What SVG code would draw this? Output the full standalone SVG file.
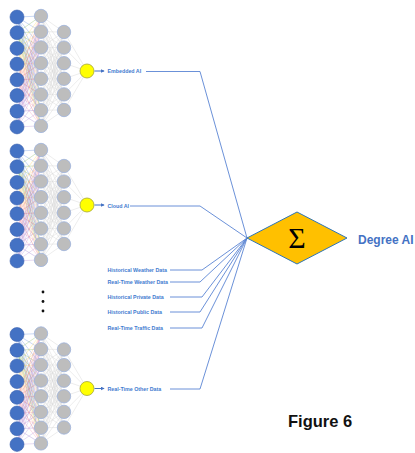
<svg xmlns="http://www.w3.org/2000/svg" xmlns:xlink="http://www.w3.org/1999/xlink" width="415" height="453" viewBox="0 0 415 453">
  <style>
    .in { fill: #4472C4; stroke: #3A62B0; stroke-width: 0.6; }
    .hd { fill: #BDBDBD; stroke: #9DB3DC; stroke-width: 0.8; }
    .out { fill: #FFFF00; stroke: #A5A53A; stroke-width: 0.8; }
    .w { fill: none; stroke-width: 0.5; stroke-opacity: 0.6; }
    .wg { fill: none; stroke: #DADADA; stroke-width: 0.5; }
    .lbl { font-family: "Liberation Sans", Arial, sans-serif; font-size: 5.3px; font-weight: bold; fill: #3F7BD0; }
    .link { fill: none; stroke: #5A84D4; stroke-width: 0.9; }
    .arrow { fill: none; stroke: #4472C4; stroke-width: 1; }
  </style>
  <defs>
    <marker id="head" viewBox="0 0 6 6" refX="5" refY="3" markerWidth="4" markerHeight="4" orient="auto">
      <path d="M0 0L6 3L0 6z" fill="#4472C4"/>
    </marker>
    <!-- small multilayer perceptron: 8 inputs, 8 hidden, 6 hidden, 1 output -->
    <g id="mlp">
      <!-- input to first hidden layer -->
      <path class="w" stroke="#4F7FDA" d="M17 17L41 16M17 17L41 31.7M17 17L41 47.4M17 17L41 63.1M17 17L41 78.8M17 17L41 94.5M17 17L41 110.2M17 17L41 125.9"/>
      <path class="w" stroke="#70AD47" d="M17 32.7L41 16M17 32.7L41 31.7M17 32.7L41 47.4M17 32.7L41 63.1M17 32.7L41 78.8M17 32.7L41 94.5M17 32.7L41 110.2M17 32.7L41 125.9"/>
      <path class="w" stroke="#FFD24D" d="M17 48.4L41 16M17 48.4L41 31.7M17 48.4L41 47.4M17 48.4L41 63.1M17 48.4L41 78.8M17 48.4L41 94.5M17 48.4L41 110.2M17 48.4L41 125.9"/>
      <path class="w" stroke="#F4B183" d="M17 64.1L41 16M17 64.1L41 31.7M17 64.1L41 47.4M17 64.1L41 63.1M17 64.1L41 78.8M17 64.1L41 94.5M17 64.1L41 110.2M17 64.1L41 125.9"/>
      <path class="w" stroke="#E05A5A" d="M17 79.8L41 16M17 79.8L41 31.7M17 79.8L41 47.4M17 79.8L41 63.1M17 79.8L41 78.8M17 79.8L41 94.5M17 79.8L41 110.2M17 79.8L41 125.9"/>
      <path class="w" stroke="#F08AAE" d="M17 95.5L41 16M17 95.5L41 31.7M17 95.5L41 47.4M17 95.5L41 63.1M17 95.5L41 78.8M17 95.5L41 94.5M17 95.5L41 110.2M17 95.5L41 125.9"/>
      <path class="w" stroke="#8E6CC8" d="M17 111.2L41 16M17 111.2L41 31.7M17 111.2L41 47.4M17 111.2L41 63.1M17 111.2L41 78.8M17 111.2L41 94.5M17 111.2L41 110.2M17 111.2L41 125.9"/>
      <path class="w" stroke="#B08AD8" d="M17 126.9L41 16M17 126.9L41 31.7M17 126.9L41 47.4M17 126.9L41 63.1M17 126.9L41 78.8M17 126.9L41 94.5M17 126.9L41 110.2M17 126.9L41 125.9"/>
      <!-- first hidden to second hidden layer -->
      <path class="wg" d="M41 16L64 32M41 16L64 47.6M41 16L64 63.2M41 16L64 78.8M41 16L64 94.4M41 16L64 110
        M41 31.7L64 32M41 31.7L64 47.6M41 31.7L64 63.2M41 31.7L64 78.8M41 31.7L64 94.4M41 31.7L64 110
        M41 47.4L64 32M41 47.4L64 47.6M41 47.4L64 63.2M41 47.4L64 78.8M41 47.4L64 94.4M41 47.4L64 110
        M41 63.1L64 32M41 63.1L64 47.6M41 63.1L64 63.2M41 63.1L64 78.8M41 63.1L64 94.4M41 63.1L64 110
        M41 78.8L64 32M41 78.8L64 47.6M41 78.8L64 63.2M41 78.8L64 78.8M41 78.8L64 94.4M41 78.8L64 110
        M41 94.5L64 32M41 94.5L64 47.6M41 94.5L64 63.2M41 94.5L64 78.8M41 94.5L64 94.4M41 94.5L64 110
        M41 110.2L64 32M41 110.2L64 47.6M41 110.2L64 63.2M41 110.2L64 78.8M41 110.2L64 94.4M41 110.2L64 110
        M41 125.9L64 32M41 125.9L64 47.6M41 125.9L64 63.2M41 125.9L64 78.8M41 125.9L64 94.4M41 125.9L64 110"/>
      <!-- second hidden layer to output -->
      <path class="wg" d="M64 32L87 71M64 47.6L87 71M64 63.2L87 71M64 78.8L87 71M64 94.4L87 71M64 110L87 71"/>
      <!-- neurons -->
      <circle class="in" cx="17" cy="17" r="7"/>
      <circle class="in" cx="17" cy="32.7" r="7"/>
      <circle class="in" cx="17" cy="48.4" r="7"/>
      <circle class="in" cx="17" cy="64.1" r="7"/>
      <circle class="in" cx="17" cy="79.8" r="7"/>
      <circle class="in" cx="17" cy="95.5" r="7"/>
      <circle class="in" cx="17" cy="111.2" r="7"/>
      <circle class="in" cx="17" cy="126.9" r="7"/>
      <circle class="hd" cx="41" cy="16" r="6.7"/>
      <circle class="hd" cx="41" cy="31.7" r="6.7"/>
      <circle class="hd" cx="41" cy="47.4" r="6.7"/>
      <circle class="hd" cx="41" cy="63.1" r="6.7"/>
      <circle class="hd" cx="41" cy="78.8" r="6.7"/>
      <circle class="hd" cx="41" cy="94.5" r="6.7"/>
      <circle class="hd" cx="41" cy="110.2" r="6.7"/>
      <circle class="hd" cx="41" cy="125.9" r="6.7"/>
      <circle class="hd" cx="64" cy="32" r="6.7"/>
      <circle class="hd" cx="64" cy="47.6" r="6.7"/>
      <circle class="hd" cx="64" cy="63.2" r="6.7"/>
      <circle class="hd" cx="64" cy="78.8" r="6.7"/>
      <circle class="hd" cx="64" cy="94.4" r="6.7"/>
      <circle class="hd" cx="64" cy="110" r="6.7"/>
      <circle class="out" cx="87" cy="71" r="7"/>
      <path class="arrow" d="M94.5 71L104 71" marker-end="url(#head)"/>
    </g>
  </defs>

  <rect width="415" height="453" fill="#FFFFFF"/>

  <!-- networks -->
  <g id="net-embedded"><use xlink:href="#mlp"/></g>
  <g id="net-cloud" transform="translate(0,134)"><use xlink:href="#mlp"/></g>
  <g id="net-other" transform="translate(0,317.5)"><use xlink:href="#mlp"/></g>

  <!-- vertical ellipsis between networks -->
  <g id="ellipsis" fill="#111111">
    <circle cx="43" cy="292" r="1.4"/>
    <circle cx="43" cy="301.5" r="1.4"/>
    <circle cx="43" cy="311" r="1.4"/>
  </g>

  <!-- connectors into the summation -->
  <g id="connectors">
    <polyline class="link" points="146,71.5 200,71.5 247,238"/>
    <polyline class="link" points="130,206 200,206 247,238"/>
    <polyline class="link" points="170,270 202,270 247,238"/>
    <polyline class="link" points="170,282 200,282 247,238"/>
    <polyline class="link" points="170,297 202,297 247,238"/>
    <polyline class="link" points="170,312 200,312 247,238"/>
    <polyline class="link" points="170,328 202,328 247,238"/>
    <polyline class="link" points="170,389 200,389 247,238"/>
  </g>

  <!-- source labels -->
  <g id="lbl-embedded"><text class="lbl" x="107.5" y="73.3">Embedded AI</text></g>
  <g id="lbl-cloud"><text class="lbl" x="107.5" y="207.8">Cloud AI</text></g>
  <g id="lbl-hist-weather"><text class="lbl" x="107.5" y="271.8">Historical Weather Data</text></g>
  <g id="lbl-rt-weather"><text class="lbl" x="107.5" y="283.8">Real-Time Weather Data</text></g>
  <g id="lbl-hist-private"><text class="lbl" x="107.5" y="298.8">Historical Private Data</text></g>
  <g id="lbl-hist-public"><text class="lbl" x="107.5" y="313.8">Historical Public Data</text></g>
  <g id="lbl-rt-traffic"><text class="lbl" x="107.5" y="329.8">Real-Time Traffic Data</text></g>
  <g id="lbl-rt-other"><text class="lbl" x="107.5" y="390.8">Real-Time Other Data</text></g>

  <!-- summation node -->
  <g id="sum">
    <polygon points="247,238 297,212 347,238 297,264" fill="#FFC000" stroke="#2E75B6" stroke-width="1"/>
    <text x="297" y="248" text-anchor="middle" font-family="'Liberation Serif', 'DejaVu Serif', serif" font-size="30" fill="#000000">Σ</text>
  </g>

  <g id="result">
    <text x="358" y="244" font-family="'Liberation Sans', Arial, sans-serif" font-size="12" font-weight="bold" fill="#4472C4">Degree AI</text>
  </g>

  <g id="caption">
    <text x="288" y="427" font-family="'Liberation Sans', Arial, sans-serif" font-size="16.5" font-weight="bold" fill="#111111">Figure 6</text>
  </g>
</svg>
